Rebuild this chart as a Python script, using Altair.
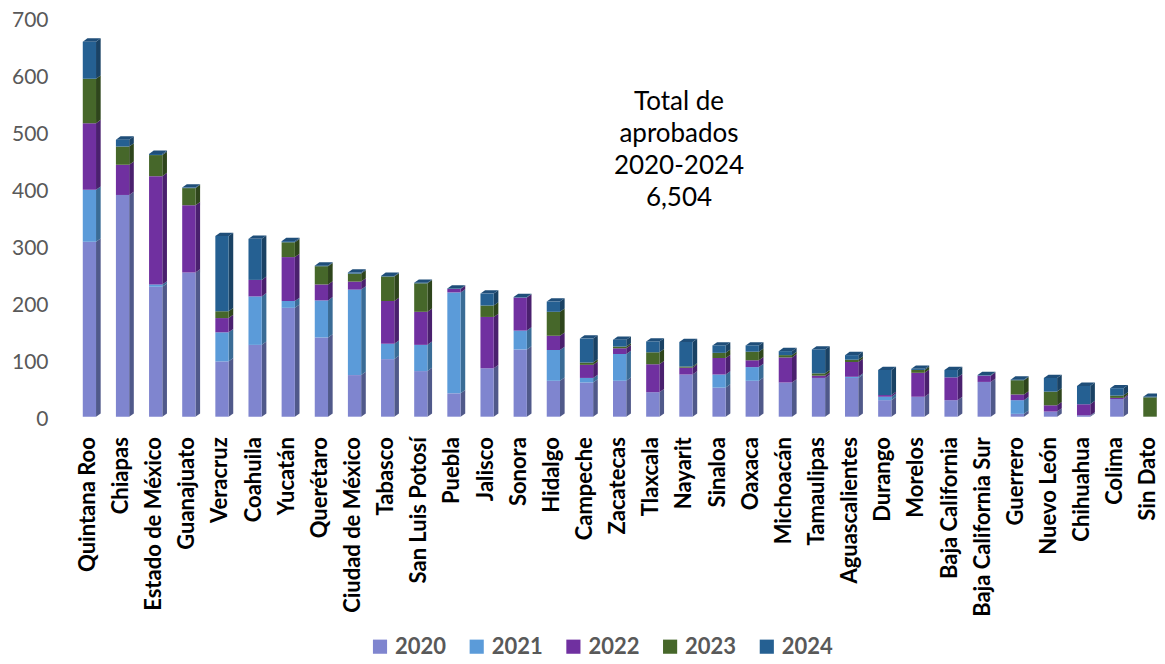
import altair as alt
import pandas as pd

states = ["Quintana Roo","Chiapas","Estado de México","Guanajuato","Veracruz","Coahuila","Yucatán","Querétaro",
"Ciudad de México","Tabasco","San Luis Potosí","Puebla","Jalisco","Sonora","Hidalgo","Campeche","Zacatecas",
"Tlaxcala","Nayarit","Sinaloa","Oaxaca","Michoacán","Tamaulipas","Aguascalientes","Durango","Morelos",
"Baja California","Baja California Sur","Guerrero","Nuevo León","Chihuahua","Colima","Sin Dato"]
v2020 = [307,389,228,253,97,126,191,139,73,101,80,41,85,118,63,60,63,43,74,51,63,60,68,68,29,35,29,61,5,9,1,31,0]
v2021 = [91,0,4,0,51,85,12,65,150,27,46,177,0,33,54,8,47,0,0,23,24,0,0,2,6,0,0,0,24,0,1,0,0]
v2022 = [117,53,190,118,25,29,77,28,14,75,58,6,90,58,25,23,10,49,12,29,12,44,4,26,3,42,40,11,10,11,20,2,0]
v2023 = [78,32,37,30,12,0,26,32,14,43,50,0,20,0,42,4,3,21,2,9,15,4,4,4,0,5,0,0,25,24,0,4,34]
v2024 = [65,12,2,1,132,72,2,1,2,1,1,1,21,1,18,42,12,19,43,13,11,7,42,8,44,2,13,1,1,24,32,13,1]
years = ["2020","2021","2022","2023","2024"]
series = [v2020,v2021,v2022,v2023,v2024]
front_colors = ["#7F85CF","#5B9BD9","#7030A0","#46672A","#256092"]
side_colors = ["#50598A","#3A6C96","#4A206E","#2E451C","#1A4264"]
note = ["Total de","aprobados","2020-2024","6,504"]

half = 0.2
depth = 0.14
rise = 5.8

fronts, sides, caps = [], [], []
for i, st in enumerate(states):
    base = 0
    for yr, vals in zip(years, series):
        v = vals[i]
        if v > 0:
            key = f"{i}-{yr}"
            fronts.append(dict(x0=i-half, x1=i+half, y0=base, y1=base+v, year=yr))
            sides.append(dict(id=key, year=yr, x=i+half, lo=base, hi=base+v))
            sides.append(dict(id=key, year=yr, x=i+half+depth, lo=base+rise, hi=base+v+rise))
            base += v
    for px, lo, hi in [(i-half, base, base), (i-half+depth, base, base+rise),
                       (i+half, base, base+rise), (i+half+depth, base+rise, base+rise)]:
        caps.append(dict(id=i, x=px, lo=lo, hi=hi))

xscale = alt.Scale(domain=[-0.887, 32.063], nice=False, zero=False)
yscale = alt.Scale(domain=[0, 700], nice=False)
labels_js = "[" + ",".join('"%s"' % s for s in states) + "][datum.value]"

x_axis = alt.Axis(
    values=list(range(len(states))), labelExpr=labels_js, labelAngle=-90, labelAlign="right",
    labelBaseline="middle", labelFont="Lato", labelFontWeight="bold", labelFontSize=22,
    labelColor="#000000", labelPadding=20, labelOffset=-2, labelOverlap=False, labelBound=False, labelFlush=False,
    labelSeparation=0, domain=False, ticks=False, grid=False)
y_axis = alt.Axis(
    values=[0,100,200,300,400,500,600,700], labelFont="Lato", labelFontSize=21,
    labelColor="#595959", labelPadding=12, labelOffset=3, labelOverlap=False,
    domain=False, ticks=False, grid=False)

side = alt.Chart(pd.DataFrame(sides)).mark_area(interpolate="linear").encode(
    x=alt.X("x:Q", scale=xscale, title=None, axis=x_axis),
    y=alt.Y("lo:Q", scale=yscale, stack=None, title=None, axis=y_axis),
    y2="hi:Q",
    detail="id:N",
    color=alt.Color("year:N", scale=alt.Scale(domain=years, range=side_colors), legend=None),
)
cap = alt.Chart(pd.DataFrame(caps)).mark_area(interpolate="linear", color="#1F4E79").encode(
    x=alt.X("x:Q", scale=xscale, title=None, axis=x_axis),
    y=alt.Y("lo:Q", scale=yscale, stack=None, title=None, axis=y_axis),
    y2="hi:Q",
    detail="id:N",
)
front = alt.Chart(pd.DataFrame(fronts)).mark_bar().encode(
    x=alt.X("x0:Q", scale=xscale, title=None, axis=x_axis),
    x2="x1:Q",
    y=alt.Y("y0:Q", scale=yscale, title=None, axis=y_axis),
    y2="y1:Q",
    color=alt.Color("year:N", scale=alt.Scale(domain=years, range=front_colors), title=None,
        legend=alt.Legend(orient="none", legendX=309, legendY=618, direction="horizontal", columns=5,
            symbolType="square", symbolSize=200, symbolStrokeWidth=0, symbolOpacity=1,
            labelFont="Lato", labelFontWeight="bold", labelFontSize=22, labelColor="#595959",
            columnPadding=18.7, labelOffset=4)),
)
text = alt.Chart(pd.DataFrame({"a":[0]})).mark_text(
    text=note, font="Lato", fontSize=26, color="#000000", lineHeight=32, align="center", baseline="middle"
).encode(x=alt.value(619), y=alt.value(84))

chart = alt.layer(side, cap, front, text).resolve_scale(color="independent").properties(
    width=1092, height=399, autosize="none",
    padding={"left":52,"top":9.7,"right":5,"bottom":244},
).configure_view(stroke=None).configure_axis(labelOverlap=False, labelSeparation=0)

chart.save("out.html", embed_options={"renderer": "svg", "actions": False})
